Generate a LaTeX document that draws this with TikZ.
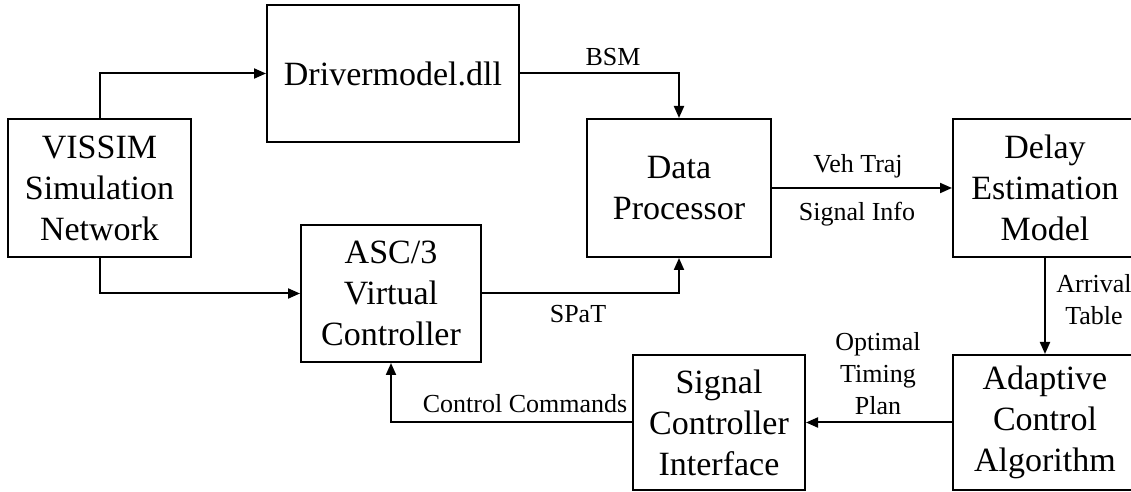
\documentclass[tikz,border=0pt]{standalone}
\usepackage{fontspec}
\setmainfont{Liberation Serif}
\usetikzlibrary{positioning,arrows.meta}

\begin{document}
\begin{tikzpicture}[x=0.5pt, y=0.5pt,
	block/.style={draw, line width=1pt, align=center, inner sep=0pt, font=\fontsize{17}{20.5}\selectfont},
	lbl/.style={align=center, inner sep=0pt, font=\fontsize{13}{16}\selectfont},
	flow/.style={line width=1pt, -{Triangle[length=6pt,width=5pt]}}]
	\clip (0, 0) rectangle (1131, 492);

	\node[block, minimum width=91.5pt, minimum height=69pt] (vissim) at (99.5, 304) {VISSIM\\Simulation\\Network};
	\node[block, minimum width=126pt, minimum height=68.5pt] (driver) at (393, 418.5) {Drivermodel.dll};
	\node[block, minimum width=92pt, minimum height=69pt] (dp) at (679, 304) {Data\\Processor};
	\node[block, minimum width=90pt, minimum height=68.5pt] (asc) at (391, 198.5) {ASC/3\\Virtual\\Controller};
	\node[block, minimum width=92pt, minimum height=69pt] (delay) at (1045, 304) {Delay\\Estimation\\Model};
	\node[block, minimum width=92pt, minimum height=67.5pt] (adapt) at (1045, 69.5) {Adaptive\\Control\\Algorithm};
	\node[block, minimum width=86pt, minimum height=67.5pt] (sci) at (719, 69.5) {Signal\\Controller\\Interface};

	\draw[flow] (vissim.north) |- (driver.west);
	\draw[flow] (vissim.south) |- (asc.west);
	\draw[flow] (driver.east) -| (dp.north);
	\draw[flow] (asc.east) -| (dp.south);
	\draw[flow] (dp.east) -- (delay.west);
	\draw[flow] (delay.south) -- (adapt.north);
	\draw[flow] (adapt.west) -- (sci.east);
	\draw[flow] (sci.west) -| (asc.south);

	\node[lbl] (bsm) at (613, 435) {BSM};
	\node[lbl] (spat) at (578, 178) {SPaT};
	\node[lbl] (vehtraj) at (858, 326) {Veh Traj};
	\node[lbl] (siginfo) at (857, 278) {Signal Info};
	\node[lbl] (arrival) at (1094, 192) {Arrival\\Table};
	\node[lbl] (optimal) at (878, 118) {Optimal\\Timing\\Plan};
	\node[lbl] (commands) at (525, 88) {Control Commands};

\end{tikzpicture}
\end{document}
